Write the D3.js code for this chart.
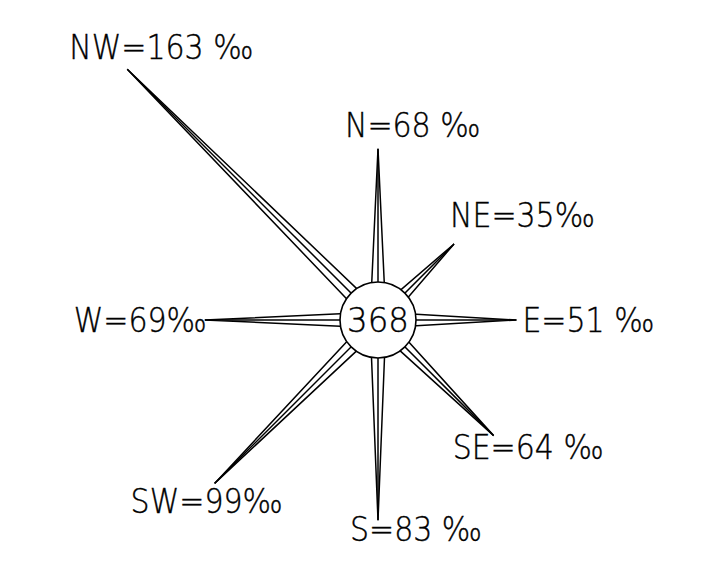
<!DOCTYPE html>
<html>
<head>
<meta charset="utf-8">
<script src="https://cdn.jsdelivr.net/npm/d3@7"></script>
<style>
  html, body { margin: 0; padding: 0; background: #fff; }
  svg { display: block; }
  text { font-family: "DejaVu Sans", sans-serif; font-weight: 200; fill: #000; stroke: #000; stroke-width: 0.35; }
</style>
</head>
<body>
<script>
// Wind directions, clockwise from north
const directions = ["N", "NE", "E", "SE", "S", "SW", "W", "NW"];
// Frequency per direction, in per mille
const values = [68, 35, 51, 64, 83, 99, 69, 163];
// Separator between the number and the unit in each label
const unitGap = [" ", "", " ", " ", " ", "", "", " "];
// Figure shown in the hub
const centerValue = 368;
const unit = "‰";

const width = 701, height = 585;
const cx = 378, cy = 320;
const hubRadius = 38;
const baseHalf = 8;

// Label placement relative to each spike tip: [dx, dy, anchor]
const labelLayout = {
  N:  [-33, -12, "start"],
  NE: [-4, -17, "start"],
  E:  [6, 12, "start"],
  SE: [-41, 23, "start"],
  S:  [-28, 21, "start"],
  SW: [-84, 30, "start"],
  W:  [2, 12, "end"],
  NW: [-58, -10, "start"]
};

const svg = d3.select("body").append("svg")
  .attr("width", width).attr("height", height);

// Spike length grows from the hub edge outward with the frequency
const len = d3.scaleLinear()
  .domain([0, d3.max(values)])
  .range([40, 40 + 1.93 * d3.max(values)]);

const angle = d3.scaleOrdinal()
  .domain(directions)
  .range(directions.map((d, i) => i * Math.PI / 4));

const data = directions.map((d, i) => {
  const a = angle(d), L = len(values[i]);
  const ux = Math.sin(a), uy = -Math.cos(a);
  return {
    dir: d, value: values[i], gap: unitGap[i],
    tip: [cx + L * ux, cy + L * uy],
    left: [cx - uy * baseHalf, cy + ux * baseHalf],
    right: [cx + uy * baseHalf, cy - ux * baseHalf]
  };
});

const line = d3.line();
const spikes = svg.append("g")
  .attr("fill", "none").attr("stroke", "#000")
  .attr("stroke-width", 1.5).attr("stroke-linejoin", "miter");

spikes.selectAll("path.outline")
  .data(data).join("path")
  .attr("class", "outline")
  .attr("d", d => line([d.left, d.tip, d.right]));

spikes.selectAll("path.mid")
  .data(data).join("path")
  .attr("class", "mid")
  .attr("d", d => line([[cx, cy], d.tip]));

// Hub
svg.append("circle")
  .attr("cx", cx).attr("cy", cy).attr("r", hubRadius)
  .attr("fill", "#fff").attr("stroke", "#000").attr("stroke-width", 1.6);

svg.append("text")
  .attr("transform", `translate(${cx},${cy + 12}) scale(1.08,1.12)`)
  .attr("text-anchor", "middle")
  .attr("font-size", 30)
  .text(centerValue);

// Direction labels
svg.append("g").selectAll("text")
  .data(data).join("text")
  .attr("transform", d =>
    `translate(${d.tip[0] + labelLayout[d.dir][0]},${d.tip[1] + labelLayout[d.dir][1]}) scale(1,1.1)`)
  .attr("text-anchor", d => labelLayout[d.dir][2])
  .attr("font-size", 30)
  .text(d => `${d.dir}=${d.value}${d.gap}${unit}`);
</script>
</body>
</html>
